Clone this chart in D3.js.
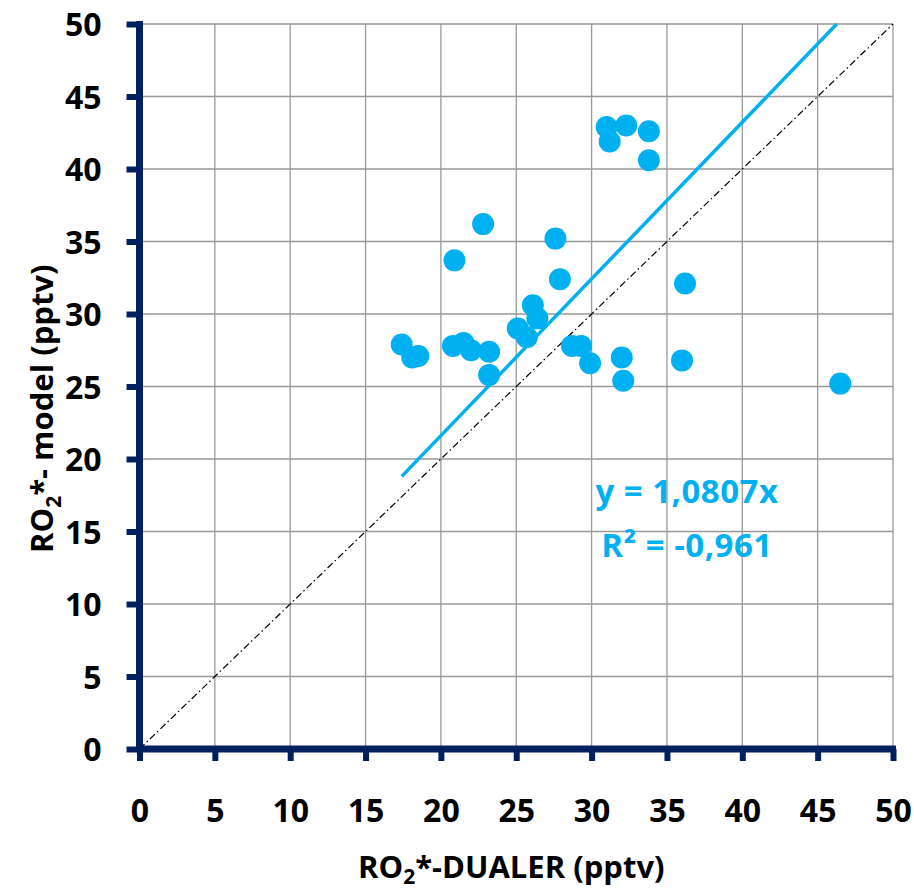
<!DOCTYPE html>
<html>
<head>
<meta charset="utf-8">
<script src="https://cdn.jsdelivr.net/npm/d3@7"></script>
<style>
  body { margin: 0; background: #fff; }
  text { font-family: "Open Sans", sans-serif; font-weight: bold; }
</style>
</head>
<body>
<svg id="chart" width="914" height="892"></svg>
<script>
// measured vs modelled RO2* (pptv)
var dualer = [31.0, 32.3, 33.8, 31.2, 33.8, 22.8, 27.6, 20.9, 27.9, 36.2,
  26.1, 26.4, 25.1, 25.7, 17.4, 18.1, 18.5, 20.8, 21.5, 22.0, 23.2, 23.2,
  28.7, 29.3, 29.9, 32.0, 32.1, 36.0, 46.5];
var model = [42.9, 43.0, 42.6, 41.9, 40.6, 36.2, 35.2, 33.7, 32.4, 32.1,
  30.6, 29.7, 29.0, 28.4, 27.9, 27.0, 27.1, 27.8, 28.0, 27.5, 27.4, 25.8,
  27.8, 27.8, 26.6, 27.0, 25.4, 26.8, 25.2];
var ticks = [0, 5, 10, 15, 20, 25, 30, 35, 40, 45, 50];
var slope = 1.0807;
var fitRange = [17.4, 50 / slope];
var eqLabels = ["y = 1,0807x", "R\u00b2 = -0,961"];

var navy = "#002060", cyan = "#00B0F0";
var svg = d3.select("#chart");

var x = d3.scaleLinear().domain([0, 50]).range([139.5, 893]);
var y = d3.scaleLinear().domain([0, 50]).range([749, 24]);

// grid
svg.append("g").selectAll("line").data(ticks.slice(1)).enter().append("line")
  .attr("x1", function (d) { return x(d); }).attr("x2", function (d) { return x(d); })
  .attr("y1", y(0)).attr("y2", y(50))
  .attr("stroke", "#999").attr("stroke-width", 1.3);
svg.append("g").selectAll("line").data(ticks.slice(1)).enter().append("line")
  .attr("y1", function (d) { return y(d); }).attr("y2", function (d) { return y(d); })
  .attr("x1", x(0)).attr("x2", x(50))
  .attr("stroke", "#999").attr("stroke-width", 1.3);

// 1:1 line
svg.append("line")
  .attr("x1", x(0)).attr("y1", y(0)).attr("x2", x(50)).attr("y2", y(50))
  .attr("stroke", "#000").attr("stroke-width", 1.2)
  .attr("stroke-dasharray", "7,3,1.5,3");

// axes
var xAxis = d3.axisBottom(x).tickValues(ticks).tickSize(12).tickPadding(38);
var yAxis = d3.axisLeft(y).tickValues(ticks).tickSize(13).tickPadding(25);

var gx = svg.append("g").attr("transform", "translate(0," + y(0) + ")").call(xAxis);
var gy = svg.append("g").attr("transform", "translate(" + x(0) + ",0)").call(yAxis);

[gx, gy].forEach(function (g) {
  g.select(".domain").remove();
  g.selectAll(".tick line").attr("stroke", navy).attr("stroke-width", 6);
  g.selectAll(".tick text").attr("fill", "#000").style("font-size", "32px")
    .style("font-family", "'Open Sans', sans-serif").style("font-weight", "bold");
});
gy.selectAll(".tick text").attr("dy", "0.36em");

svg.append("line").attr("x1", x(0)).attr("x2", x(0)).attr("y1", y(50) - 3).attr("y2", y(0) + 3)
  .attr("stroke", navy).attr("stroke-width", 7);
svg.append("line").attr("x1", x(0) - 3).attr("x2", x(50) + 3).attr("y1", y(0)).attr("y2", y(0))
  .attr("stroke", navy).attr("stroke-width", 7);

// trend line
svg.append("line")
  .attr("x1", x(fitRange[0])).attr("y1", y(fitRange[0] * slope))
  .attr("x2", x(fitRange[1])).attr("y2", y(fitRange[1] * slope))
  .attr("stroke", cyan).attr("stroke-width", 3.5);

// points
svg.append("g").selectAll("circle").data(dualer).enter().append("circle")
  .attr("cx", function (d) { return x(d); })
  .attr("cy", function (d, i) { return y(model[i]); })
  .attr("r", 11).attr("fill", cyan);

// equation
svg.append("g").selectAll("text").data(eqLabels).enter().append("text")
  .attr("x", 687).attr("y", function (d, i) { return 503 + i * 54; })
  .attr("text-anchor", "middle").attr("fill", cyan)
  .style("font-size", "33px").style("letter-spacing", "0.5px")
  .text(function (d) { return d; });

// axis titles
var xt = svg.append("text").attr("x", 358).attr("y", 878)
  .style("font-size", "31px").attr("fill", "#000");
xt.append("tspan").text("RO");
xt.append("tspan").attr("dy", 6).style("font-size", "21px").text("2");
xt.append("tspan").attr("dy", -6).text("*-DUALER (pptv)");

var yt = svg.append("text").attr("transform", "translate(53,553) rotate(-90)")
  .style("font-size", "31px").attr("fill", "#000");
yt.append("tspan").text("RO");
yt.append("tspan").attr("dy", 8).style("font-size", "21px").text("2");
yt.append("tspan").attr("dy", -8).text("*- model (pptv)");
</script>
</body>
</html>
